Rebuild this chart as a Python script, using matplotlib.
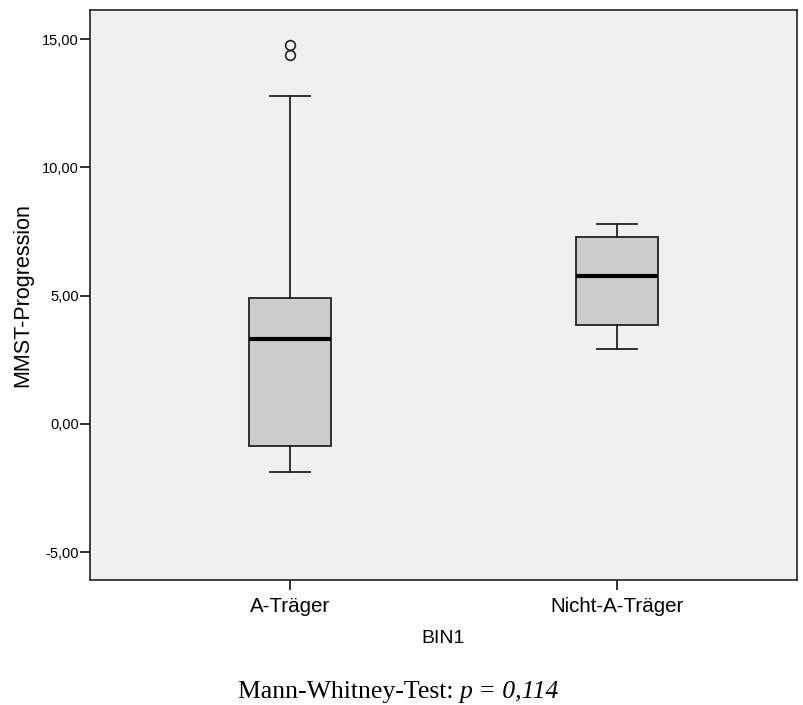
import matplotlib
matplotlib.use("Agg")
import matplotlib.pyplot as plt
from matplotlib.text import Annotation

# Group summary statistics of MMST progression
categories = ["A-Träger", "Nicht-A-Träger"]
whisker_low = [-1.87, 2.91]
q1 = [-0.85, 3.87]
median = [3.31, 5.78]
q3 = [4.90, 7.28]
whisker_high = [12.78, 7.81]
outliers = [[14.77, 14.38], []]

yticks = [-5, 0, 5, 10, 15]
ytick_labels = ["-5,00", "0,00", "5,00", "10,00", "15,00"]

stats = []
for i, name in enumerate(categories):
    stats.append({
        "label": name,
        "whislo": whisker_low[i],
        "q1": q1[i],
        "med": median[i],
        "q3": q3[i],
        "whishi": whisker_high[i],
        "fliers": outliers[i],
    })

fig = plt.figure(figsize=(8.04, 7.05), dpi=100)
ax = fig.add_axes([90 / 804, 1 - 580 / 705, 707 / 804, 570 / 705])
ax.set_facecolor("#f0f0f0")

ax.bxp(
    stats,
    positions=[1, 2],
    widths=0.251,
    patch_artist=True,
    showfliers=True,
    boxprops=dict(facecolor="#cccccc", edgecolor="#222222", linewidth=1.3),
    medianprops=dict(color="black", linewidth=3),
    whiskerprops=dict(color="#222222", linewidth=1.3),
    capprops=dict(color="#222222", linewidth=1.3),
    capwidths=0.122,
    flierprops=dict(marker="o", markersize=7, markerfacecolor="none",
                    markeredgecolor="#222222", markeredgewidth=1.2),
)

ax.set_xlim(0.388, 2.55)
ax.set_ylim(-6.08, 16.13)
ax.set_yticks(yticks)
ax.set_yticklabels(ytick_labels, fontsize=10.5, family="Liberation Sans")
ax.set_xticks([1, 2])
ax.set_xticklabels(categories, fontsize=14.8, family="Liberation Sans")
ax.tick_params(axis="both", direction="out", length=7, width=1.3, color="#222222")
ax.tick_params(axis="y", pad=1)
ax.tick_params(axis="x", pad=5)

for side in ax.spines.values():
    side.set_linewidth(1.2)
    side.set_color("#222222")

ax.set_ylabel("MMST-Progression", fontsize=15.5, family="Liberation Sans", labelpad=6)
ax.set_xlabel("BIN1", fontsize=14, family="Liberation Sans", labelpad=10)

# Caption: plain lead-in followed by the italic p-value
lead = fig.text(238 / 804, 1 - 698 / 705, "Mann-Whitney-Test: ",
                ha="left", va="baseline", fontsize=18.5, family="Liberation Serif")
fig.add_artist(Annotation("p = 0,114", xy=(1, 0), xycoords=lead,
                          xytext=(0, 0), textcoords="offset points",
                          ha="left", va="bottom", fontsize=18.5,
                          family="Liberation Serif", style="italic"))

fig.savefig("out.png", dpi=100, facecolor="white")
